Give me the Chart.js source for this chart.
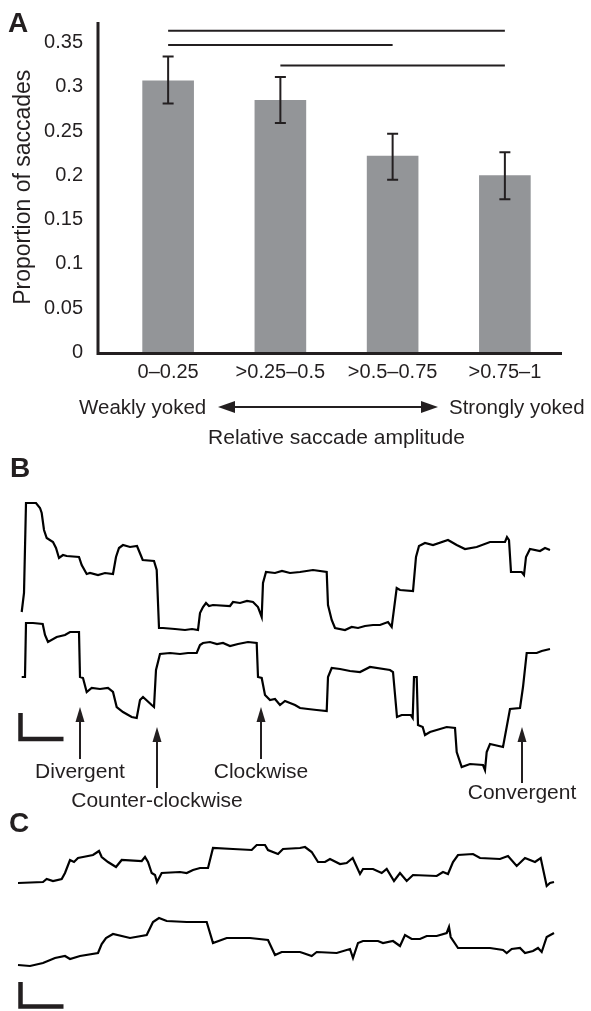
<!DOCTYPE html>
<html>
<head>
<meta charset="utf-8">
<script src="https://cdn.jsdelivr.net/npm/chart.js@4.4.1/dist/chart.umd.min.js"></script>
<style>
body{margin:0;background:#fff}
#fig{position:relative;width:591px;height:1011px;overflow:hidden;font-family:'Liberation Sans',Arial,sans-serif;color:#231f20}
canvas{position:absolute;left:0}
svg{position:absolute;left:0;top:0}
.lbl{position:absolute;white-space:nowrap;line-height:1;font-size:21px;transform:translate(-50%,-50%)}
.side{position:absolute;white-space:nowrap;line-height:1;font-size:20.5px;transform:translateY(-50%)}
.letter{position:absolute;font-weight:bold;font-size:28px;line-height:1}
</style>
</head>
<body>
<div id="fig">
  <canvas id="barChart" width="591" height="460" style="top:0"></canvas>
  <canvas id="traceChart" width="591" height="521" style="top:490px"></canvas>

  <svg width="591" height="1011">
    <g stroke="#231f20" fill="#231f20">
      <!-- weakly / strongly yoked double arrow -->
      <line x1="232" y1="407" x2="424" y2="407" stroke-width="2"/>
      <polygon points="218,407 235,401 235,413" stroke="none"/>
      <polygon points="438,407 421,401 421,413" stroke="none"/>
      <!-- event arrows in B -->
      <line x1="80" y1="717" x2="80" y2="759" stroke-width="2"/>
      <polygon points="80,707 75.5,722 84.5,722" stroke="none"/>
      <line x1="157" y1="737" x2="157" y2="788" stroke-width="2"/>
      <polygon points="157,727 152.5,742 161.5,742" stroke="none"/>
      <line x1="261" y1="717" x2="261" y2="759" stroke-width="2"/>
      <polygon points="261,707 256.5,722 265.5,722" stroke="none"/>
      <line x1="522" y1="737" x2="522" y2="783" stroke-width="2"/>
      <polygon points="522,727 517.5,742 526.5,742" stroke="none"/>
      <!-- scale bars -->
      <path d="M20.5,713 L20.5,739 L63.5,739" fill="none" stroke-width="4.5"/>
      <path d="M20.5,982 L20.5,1006.5 L63.5,1006.5" fill="none" stroke-width="4.5"/>
    </g>
  </svg>

  <div class="letter" style="left:8px;top:9px">A</div>
  <div class="letter" style="left:10px;top:454px">B</div>
  <div class="letter" style="left:9px;top:809px">C</div>

  <div class="side" style="left:79px;top:407px">Weakly yoked</div>
  <div class="side" style="left:449px;top:407px">Strongly yoked</div>

  <div class="lbl" style="left:80px;top:770px">Divergent</div>
  <div class="lbl" style="left:157px;top:799px">Counter-clockwise</div>
  <div class="lbl" style="left:261px;top:770px">Clockwise</div>
  <div class="lbl" style="left:522px;top:791px">Convergent</div>
</div>

<script>
// Panel A: proportion of saccades per relative amplitude bin
const categories = ['0–0.25', '>0.25–0.5', '>0.5–0.75', '>0.75–1'];
const proportion = [0.307, 0.285, 0.222, 0.200];
const errLow = [0.281, 0.259, 0.195, 0.173];
const errHigh = [0.334, 0.311, 0.247, 0.226];
// significance brackets: from bin, to bin, height
const sigFrom = [0, 0, 1];
const sigTo = [3, 2, 3];
const sigLevel = [0.363, 0.347, 0.324];

// Panel B: eye position traces (time in samples, position in arbitrary units)
const b1Time = [
  1.7, 4, 6, 16, 20, 21.7, 24, 26.7, 33, 36,
  39, 43, 46.7, 59, 61.7, 66.7, 70, 78, 85, 93,
  96, 99, 103, 110, 117, 120.7, 122.7, 134, 136.7, 139,
  143, 155, 165, 172, 178, 180, 183, 186, 189, 193,
  210, 213, 220, 227, 233, 238, 241.7, 243, 246, 255,
  262, 270, 280, 293, 306.7, 308, 311.7, 315, 325, 331.7,
  338, 345, 353, 360, 368, 371.7, 376.7, 380, 393, 396,
  399, 405, 413, 428, 436.7, 445, 456.7, 470, 485, 487,
  489, 491, 501.7, 504, 506, 510, 520, 525, 530];
const b1Pos = [
  28, 47, 137, 137, 132, 127, 110, 102, 98, 92,
  82, 85, 84, 83, 75, 66, 67, 65, 67, 66,
  83, 92, 95, 93, 94, 85, 80, 79, 70, 12,
  12, 11, 10, 11, 10, 27, 33, 37, 34, 35,
  34, 38, 37, 39, 38, 33, 23, 57, 68, 67,
  69, 67, 68, 70, 68, 35, 20, 12, 10, 13,
  12, 14, 15, 15, 18, 13, 52, 50, 49, 83,
  94, 97, 95, 100, 95, 91, 93, 98, 98, 103,
  100, 68, 68, 65, 83, 91, 89, 92, 90];
const b2Time = [
  1.7, 5, 6, 13, 22.7, 25, 28, 36.7, 45, 50,
  59, 60, 63, 66.7, 71.7, 80, 88, 93, 96.7, 103,
  111.7, 116.7, 120, 123, 131.7, 134, 136, 140, 150, 160,
  168, 176.7, 180, 183, 190, 197, 203, 210, 218, 228,
  236.7, 238, 241.7, 245, 250, 255, 260, 265, 270, 275,
  280, 288, 296.7, 306.7, 308, 311.7, 320, 330, 340, 350,
  370, 373, 377, 381.7, 390.7, 392.7, 394, 396.7, 398, 402.7,
  405, 410, 426.7, 435, 436.7, 441.7, 450, 463, 465, 466.7,
  470, 483, 490, 500, 503, 506.7, 516.7, 521.7, 530];
const b2Pos = [
  98, 98, 152, 152, 151, 140, 133, 138, 140, 143,
  143, 98, 97, 83, 87, 86, 87, 83, 68, 63,
  58, 57, 75, 78, 70, 68, 105, 121, 122, 121,
  122, 122, 130, 132, 133, 131, 132, 129, 131, 133,
  132, 98, 97, 80, 75, 76, 70, 74, 72, 70,
  67, 66, 65, 64, 98, 107, 106, 104, 103, 108,
  105, 103, 58, 60, 60, 57, 98, 98, 50, 48,
  40, 43, 48, 47, 23, 8, 11, 10, 5, 23,
  31, 28, 66, 67, 88, 122, 122, 124, 126];

// Panel C
const c1Time = [
  -2, 23, 26.7, 33, 41.7, 45, 50, 54, 58, 63,
  73, 79, 81.7, 88, 96, 101.7, 121.7, 125, 128, 131.7,
  135, 137, 141.7, 160, 166.7, 173, 180, 188, 193, 213,
  231.7, 236.7, 245, 248, 258, 263, 280, 285, 291.7, 298,
  305, 310, 320, 326.7, 332.7, 340, 343, 353, 361.7, 366.7,
  374, 380, 386.7, 393, 416.7, 423, 428, 433, 438, 453,
  460, 480, 488, 496.7, 505, 515, 520.7, 526.7, 530, 534];
const c1Pos = [
  7, 8, 11, 9, 11, 17, 30, 28, 32, 33,
  35, 39, 33, 28, 23, 30, 29, 33, 28, 17,
  15, 8, 17, 18, 17, 20, 22, 22, 42, 41,
  40, 45, 45, 40, 36, 41, 42, 43, 38, 28,
  28, 31, 26, 27, 32, 16, 21, 21, 17, 21,
  9, 17, 9, 15, 14, 18, 16, 28, 35, 36,
  32, 31, 34, 24, 32, 28, 32, 4, 7, 8];
const c2Time = [
  -2, 10, 23, 35, 45, 50, 60, 78, 81.7, 86,
  93, 110, 126.7, 133, 139, 146.7, 166.7, 186.7, 193, 206.7,
  230, 248, 255, 261.7, 280, 283, 291.7, 296.7, 316.7, 330,
  333, 338, 343, 358, 363, 373, 380, 385, 391.7, 400,
  406.7, 416.7, 426.7, 429, 430.7, 438, 470, 483, 486.7, 491.7,
  500, 505, 513, 518, 521.7, 526.7, 534];
const c2Pos = [
  5, 4, 7, 12, 14, 11, 14, 17, 26, 32,
  36, 32, 35, 48, 52, 49, 48, 48, 27, 32,
  32, 30, 15, 18, 18, 17, 14, 18, 17, 21,
  12, 27, 29, 29, 27, 29, 24, 35, 31, 31,
  34, 34, 37, 43, 33, 22, 22, 20, 17, 21,
  22, 17, 19, 22, 18, 33, 37];

const ink = '#231f20';
function $(id){return document.getElementById(id)}
function series(t, p){return t.map((v,i)=>({x:v, y:p[i]}))}

Chart.defaults.font.family = "'Liberation Sans', Arial, sans-serif";
Chart.defaults.color = ink;

// error bars, significance lines and the axis frame
const barExtras = {
  id:'barExtras',
  afterDatasetsDraw(chart){
    const {ctx, chartArea, scales:{x, y}} = chart;
    ctx.save();
    ctx.strokeStyle = ink;
    ctx.lineWidth = 2;
    errLow.forEach((lo, i)=>{
      const cx = x.getPixelForValue(i);
      const top = y.getPixelForValue(errHigh[i]);
      const bot = y.getPixelForValue(lo);
      ctx.beginPath();
      ctx.moveTo(cx, top); ctx.lineTo(cx, bot);
      ctx.moveTo(cx-5.5, top); ctx.lineTo(cx+5.5, top);
      ctx.moveTo(cx-5.5, bot); ctx.lineTo(cx+5.5, bot);
      ctx.stroke();
    });
    sigFrom.forEach((a, i)=>{
      const py = y.getPixelForValue(sigLevel[i]);
      ctx.beginPath();
      ctx.moveTo(x.getPixelForValue(a), py);
      ctx.lineTo(x.getPixelForValue(sigTo[i]), py);
      ctx.stroke();
    });
    // axis lines sit a bit left of the first bin, like the original
    ctx.lineWidth = 3;
    ctx.beginPath();
    ctx.moveTo(chartArea.left-14, chartArea.top);
    ctx.lineTo(chartArea.left-14, chartArea.bottom+1);
    ctx.lineTo(chartArea.right+1, chartArea.bottom+1);
    ctx.stroke();
    ctx.restore();
  }
};

new Chart($('barChart'), {
  type:'bar',
  data:{labels:categories, datasets:[{data:proportion, backgroundColor:'#939598', categoryPercentage:1, barPercentage:0.46}]},
  options:{
    responsive:false, animation:false, events:[],
    layout:{padding:{left:0, right:30, top:22, bottom:0}},
    plugins:{legend:{display:false}, tooltip:{enabled:false}},
    scales:{
      x:{
        grid:{display:false, drawTicks:false}, border:{display:false},
        ticks:{font:{size:20}, padding:8, maxRotation:0, autoSkip:false},
        title:{display:true, text:'Relative saccade amplitude', font:{size:21}, padding:{top:0, bottom:9}},
        afterFit(s){ s.height = 107.5; s.paddingLeft = 0; s.paddingRight = 0; }
      },
      y:{
        min:0, max:0.373,
        grid:{display:false, drawTicks:false}, border:{display:false},
        ticks:{stepSize:0.05, includeBounds:false, font:{size:20}, padding:29, callback:v=>String(+v.toFixed(2))},
        title:{display:true, text:'Proportion of saccades', font:{size:23}, padding:{top:10, bottom:0}},
        afterFit(s){ s.width = 112; s.paddingTop = 0; s.paddingBottom = 0; }
      }
    }
  },
  plugins:[barExtras]
});

// Panels B and C share one canvas; each trace gets its own hidden y axis
const traceStyle = {showLine:true, borderColor:'#000', borderWidth:2.2, pointRadius:0, tension:0, clip:false};
new Chart($('traceChart'), {
  type:'scatter',
  data:{datasets:[
    {...traceStyle, data:series(b1Time, b1Pos), yAxisID:'yB1'},
    {...traceStyle, data:series(b2Time, b2Pos), yAxisID:'yB2'},
    {...traceStyle, data:series(c1Time, c1Pos), yAxisID:'yC1'},
    {...traceStyle, data:series(c2Time, c2Pos), yAxisID:'yC2'}
  ]},
  options:{
    responsive:false, animation:false, events:[],
    layout:{padding:0},
    plugins:{legend:{display:false}, tooltip:{enabled:false}},
    scales:{
      x:{type:'linear', display:false, min:-20, max:571},
      yB1:{type:'linear', position:'left', display:false, min:-371, max:150},
      yB2:{type:'linear', position:'left', display:false, min:-236, max:285},
      yC1:{type:'linear', position:'left', display:false, min:-121, max:400},
      yC2:{type:'linear', position:'left', display:false, min:-41, max:480}
    }
  }
});
</script>
</body>
</html>
